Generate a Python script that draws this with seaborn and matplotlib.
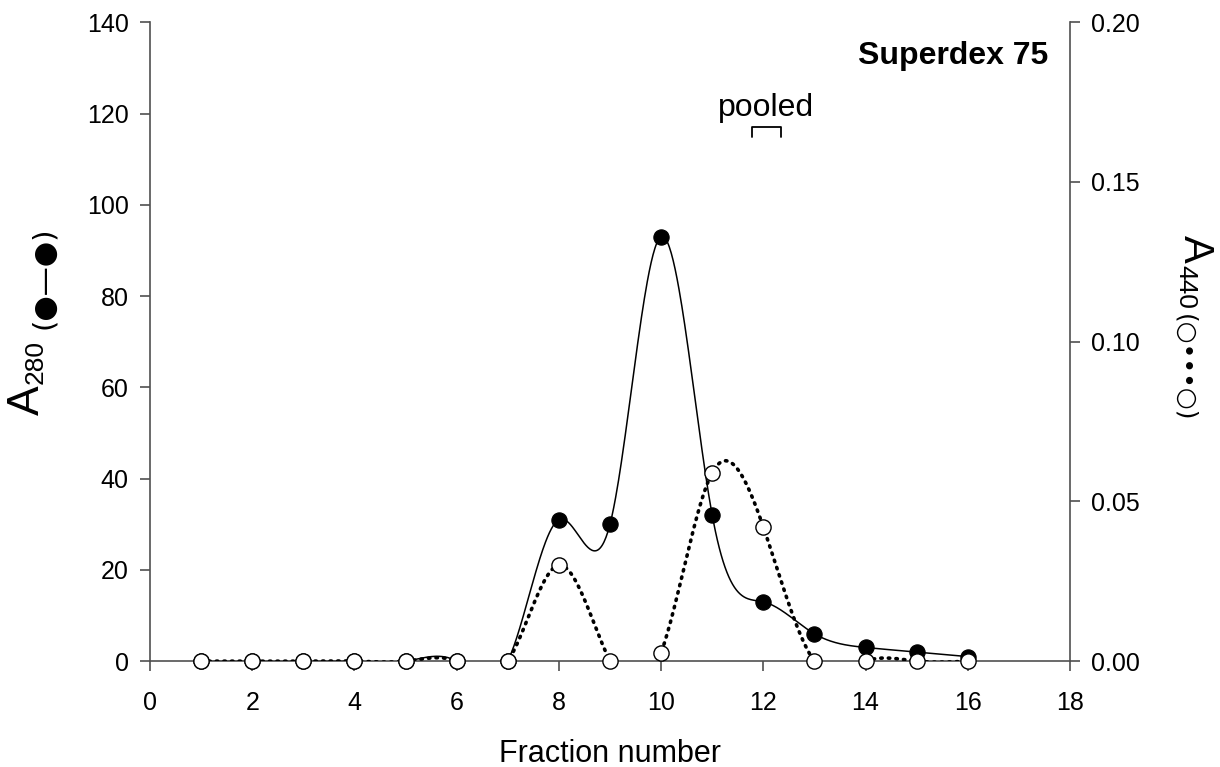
import numpy as np
import pandas as pd
import matplotlib
matplotlib.use("Agg")
import matplotlib.pyplot as plt
import seaborn as sns

fractions = [1, 2, 3, 4, 5, 6, 7, 8, 9, 10, 11, 12, 13, 14, 15, 16]
a280 = [0, 0, 0, 0, 0, 0, 0, 31, 30, 93, 32, 13, 6, 3, 2, 1]
a440 = [0, 0, 0, 0, 0, 0, 0, 0.030, 0, 0.0026, 0.059, 0.042, 0, 0, 0, 0]
x_ticks = [0, 2, 4, 6, 8, 10, 12, 14, 16, 18]
left_ticks = [0, 20, 40, 60, 80, 100, 120, 140]
right_ticks = [0.00, 0.05, 0.10, 0.15, 0.20]


def natural_spline(x, y, n=800):
    x = np.asarray(x, float)
    y = np.asarray(y, float)
    m = len(x)
    h = np.diff(x)
    A = np.zeros((m, m))
    b = np.zeros(m)
    A[0, 0] = 1
    A[-1, -1] = 1
    for i in range(1, m - 1):
        A[i, i - 1] = h[i - 1]
        A[i, i] = 2 * (h[i - 1] + h[i])
        A[i, i + 1] = h[i]
        b[i] = 3 * ((y[i + 1] - y[i]) / h[i] - (y[i] - y[i - 1]) / h[i - 1])
    c = np.linalg.solve(A, b)
    xs = np.linspace(x[0], x[-1], n)
    idx = np.clip(np.searchsorted(x, xs) - 1, 0, m - 2)
    dx = xs - x[idx]
    bb = (y[idx + 1] - y[idx]) / h[idx] - h[idx] * (2 * c[idx] + c[idx + 1]) / 3
    dd = (c[idx + 1] - c[idx]) / (3 * h[idx])
    ys = y[idx] + bb * dx + c[idx] * dx ** 2 + dd * dx ** 3
    return xs, ys


sns.set_style("ticks")
plt.rcParams["font.family"] = ["Liberation Sans", "DejaVu Sans"]
plt.rcParams["text.color"] = "black"
plt.rcParams["axes.labelcolor"] = "black"
plt.rcParams["xtick.labelcolor"] = "black"
plt.rcParams["ytick.labelcolor"] = "black"

fig = plt.figure(figsize=(12.2, 7.67), dpi=100)
ax = fig.add_axes([0.123, 0.138, 0.754, 0.833])
ax2 = ax.twinx()

df = pd.DataFrame({"fraction": fractions, "a280": a280, "a440": a440})
xs1, ys1 = natural_spline(fractions, a280)
xs2, ys2 = natural_spline(fractions, a440)

sns.lineplot(x=xs1, y=ys1, ax=ax, color="black", lw=1.1, zorder=2)
sns.lineplot(x=xs2, y=ys2, ax=ax2, color="black", lw=2.6,
             linestyle=(0, (0.4, 1.7)), dash_capstyle="round", zorder=2)
sns.scatterplot(data=df, x="fraction", y="a280", ax=ax, color="black",
                edgecolor="black", s=120, zorder=3, clip_on=False)
sns.scatterplot(data=df, x="fraction", y="a440", ax=ax2, color="white",
                edgecolor="black", linewidth=1.0, s=120, zorder=4, clip_on=False)

ax.set_xlim(0, 18)
ax.set_ylim(0, 140)
ax2.set_ylim(0, 0.20)
ax.set_xticks(x_ticks)
ax.set_yticks(left_ticks)
ax2.set_yticks(right_ticks)
ax2.set_yticklabels([f"{v:.2f}" for v in right_ticks])

spine_c = "#505050"
for a in (ax, ax2):
    a.spines["top"].set_visible(False)
    for s in ("left", "right", "bottom"):
        a.spines[s].set_color(spine_c)
        a.spines[s].set_linewidth(1.2)
    a.tick_params(direction="out", length=7.5, width=1.2, color=spine_c,
                  labelsize=18, pad=8)
ax.tick_params(axis="x", pad=14)
ax.spines["right"].set_visible(False)
ax2.spines["left"].set_visible(False)
ax2.spines["bottom"].set_visible(False)
ax.set_xlabel("")
ax.set_ylabel("")
ax2.set_ylabel("")

fig.text(0.5, 0.006, "Fraction number", ha="center", va="baseline",
         fontsize=22)

# left y-axis label
fig.text(27 / 1220, 1 - 400 / 767, "A", rotation=90, fontsize=32,
         ha="center", va="center")
fig.text(36 / 1220, 1 - 362 / 767, "280", rotation=90, fontsize=19,
         ha="center", va="center")
fig.text(44 / 1220, 1 - 278 / 767, "(●—●)", rotation=90, fontsize=21,
         ha="center", va="center", family=["DejaVu Sans"])
# right y-axis label
fig.text(1195 / 1220, 1 - 249 / 767, "A", rotation=-90, fontsize=30,
         ha="center", va="center")
fig.text(1185 / 1220, 1 - 287 / 767, "440", rotation=-90, fontsize=19,
         ha="center", va="center")
fig.text(1184 / 1220, 1 - 368 / 767, "(○•••○)", rotation=-90, fontsize=18,
         ha="center", va="center", family=["DejaVu Sans"])

fig.text(1048 / 1220, 1 - 56 / 767, "Superdex 75", ha="right", va="center",
         fontsize=23, fontweight="bold")
ax.text(12.05, 121.3, "pooled", ha="center", va="center", fontsize=23)
ax.plot([11.78, 11.78, 12.35, 12.35], [114.8, 117, 117, 114.8],
        color="black", lw=1.3)

fig.savefig("out.png", dpi=100, facecolor="white")
